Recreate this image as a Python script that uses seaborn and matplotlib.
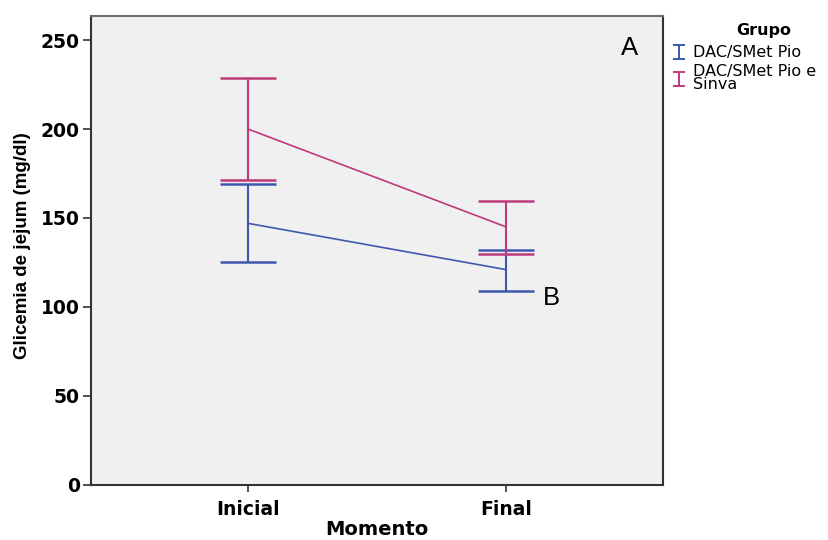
import matplotlib
matplotlib.use("Agg")
import matplotlib.pyplot as plt
from matplotlib.path import Path
from matplotlib.lines import Line2D
import seaborn as sns
import pandas as pd

sns.set_theme(style="white")
plt.rcParams['font.family'] = ['Liberation Sans', 'DejaVu Sans']
plt.rcParams['text.color'] = 'black'

momentos = ["Inicial", "Final"]
grupos = ["DAC/SMet Pio", "DAC/SMet Pio e\nSinva"]
media_pio = [147, 121]
lo_pio = [125, 109]
hi_pio = [169, 132]
media_sinva = [200, 145]
lo_sinva = [171.5, 130]
hi_sinva = [228.5, 159.5]
cores = ["#3F58AC", "#BE3A7C"]

df = pd.DataFrame({
    "Momento": momentos * 2,
    "Grupo": [grupos[0]] * 2 + [grupos[1]] * 2,
    "Media": media_pio + media_sinva,
    "lo": lo_pio + lo_sinva,
    "hi": hi_pio + hi_sinva,
})
df["x"] = df["Momento"].map({m: i for i, m in enumerate(momentos)})

fig = plt.figure(figsize=(8.29, 5.40), dpi=100)
ax = fig.add_axes([0.1098, 0.1019, 0.69, 0.8685])
ax.set_facecolor("#F0F0F0")

sns.lineplot(data=df, x="x", y="Media", hue="Grupo", palette=cores,
             hue_order=grupos, legend=False, ax=ax, linewidth=1.2)

for g, c in zip(grupos, cores):
    d = df[df["Grupo"] == g]
    ax.errorbar(d["x"], d["Media"],
                yerr=[d["Media"] - d["lo"], d["hi"] - d["Media"]],
                fmt="none", ecolor=c, elinewidth=1.5, capsize=20,
                capthick=1.8)

ax.set_xlim(-0.608, 1.608)
ax.set_ylim(0, 263.5)
ax.set_xticks(range(len(momentos)))
ax.set_xticklabels(momentos)
ax.set_yticks([0, 50, 100, 150, 200, 250])
ax.tick_params(axis="both", which="both", direction="out", length=6,
               width=1.2, color="#333333", labelsize=13.5, pad=2,
               left=True, bottom=True, labelcolor="black")
for lab in ax.get_xticklabels() + ax.get_yticklabels():
    lab.set_fontweight("bold")
    lab.set_fontfamily("DejaVu Sans")
ax.tick_params(axis="x", length=5, pad=6)

ax.set_xlabel("Momento", fontsize=14, fontweight="bold",
              fontfamily="DejaVu Sans", color="black")
ax.set_ylabel("Glicemia de jejum (mg/dl)", fontsize=13.5, fontweight="bold",
              color="black")
ax.xaxis.set_label_coords(0.5, -0.075)
ax.yaxis.set_label_coords(-0.105, 0.51)

for s in ["left", "bottom", "right"]:
    ax.spines[s].set_color("#333333")
    ax.spines[s].set_linewidth(1.5)
ax.spines["top"].set_color("#6E6E6E")
ax.spines["top"].set_linewidth(1.5)

ax.text(1.48, 245.5, "A", fontsize=18.5, ha="center", va="center")
ax.text(1.174, 105, "B", fontsize=18.5, ha="center", va="center")

ibeam = Path([(-0.45, -0.5), (0.45, -0.5), (0, -0.5), (0, 0.5),
              (-0.45, 0.5), (0.45, 0.5)],
             [Path.MOVETO, Path.LINETO, Path.MOVETO, Path.LINETO,
              Path.MOVETO, Path.LINETO])
handles = [Line2D([], [], linestyle="none", marker=ibeam, markersize=10,
                  markeredgewidth=1.4, markeredgecolor=c,
                  markerfacecolor="none") for c in cores]
leg = ax.legend(handles, grupos, loc="upper left",
                bbox_to_anchor=(1.0, 0.958), frameon=False,
                prop={"family": "DejaVu Sans", "size": 11.5},
                handlelength=0.8, handletextpad=0.5, labelspacing=0.25,
                borderaxespad=0.2)
for t in leg.get_texts():
    t.set_linespacing(0.85)
fig.text(764 / 829, 1 - 30 / 540, "Grupo", fontsize=11.5, fontweight="bold",
         fontfamily="DejaVu Sans", ha="center", va="center")

fig.savefig("out.png", dpi=100)
